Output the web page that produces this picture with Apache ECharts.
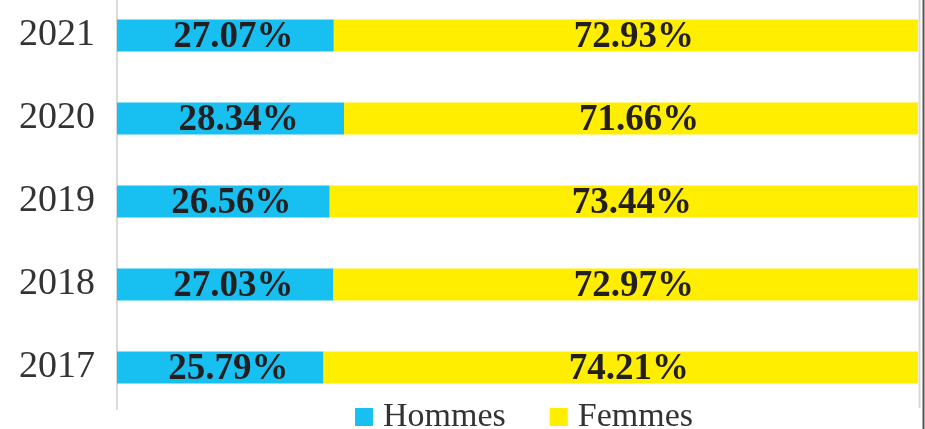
<!DOCTYPE html>
<html>
<head>
<meta charset="utf-8">
<script src="https://cdn.jsdelivr.net/npm/echarts@6/dist/echarts.min.js"></script>
<style>
    html, body { margin: 0; padding: 0; background: #fff; }
    #chart { width: 925px; height: 429px; }
</style>
</head>
<body>
<div id="chart"></div>
<script>
var years = ['2017', '2018', '2019', '2020', '2021'];
var hommes = [25.79, 27.03, 26.56, 28.34, 27.07];
var femmes = [74.21, 72.97, 73.44, 71.66, 72.93];
var seriesNames = ['Hommes', 'Femmes'];
var seriesColors = ['#17c0f0', '#ffee00'];

var serifFont = '"Liberation Serif", "DejaVu Serif", serif';

function makeSeries(name, values, color) {
    return {
        name: name,
        type: 'bar',
        stack: 'total',
        barWidth: 32,
        data: values,
        itemStyle: { color: color },
        label: {
            show: true,
            position: 'inside',
            offset: [8, 2],
            formatter: function (p) { return p.value.toFixed(2) + '%'; },
            fontFamily: serifFont,
            fontWeight: 'bold',
            fontSize: 37,
            color: '#231f20'
        }
    };
}

var chart = echarts.init(document.getElementById('chart'));
chart.setOption({
    animation: false,
    textStyle: { fontFamily: serifFont },
    grid: { left: 117, right: 7, top: -6, bottom: 20, outerBoundsMode: 'none', containLabel: false },
    legend: {
        bottom: -10,
        left: 350,
        itemWidth: 18,
        itemHeight: 18,
        itemGap: 44,
        icon: 'rect',
        textStyle: { fontFamily: serifFont, fontSize: 34, color: '#333', padding: [0, 0, 0, 5] },
        data: seriesNames
    },
    xAxis: {
        type: 'value',
        min: 0,
        max: 100,
        show: false
    },
    yAxis: {
        type: 'category',
        data: years,
        axisLine: { show: true, lineStyle: { color: '#d9d9d9', width: 2 } },
        axisTick: { show: false },
        axisLabel: {
            margin: 22,
            fontFamily: serifFont,
            fontSize: 38,
            color: '#333'
        }
    },
    graphic: [
        { type: 'line', shape: { x1: 919.5, y1: 0, x2: 919.5, y2: 408 }, style: { stroke: '#d9d9d9', lineWidth: 2 } },
        { type: 'line', shape: { x1: 923.5, y1: 0, x2: 923.5, y2: 429 }, style: { stroke: '#555', lineWidth: 2 } }
    ],
    series: [
        makeSeries(seriesNames[0], hommes, seriesColors[0]),
        makeSeries(seriesNames[1], femmes, seriesColors[1])
    ]
});
</script>
</body>
</html>
